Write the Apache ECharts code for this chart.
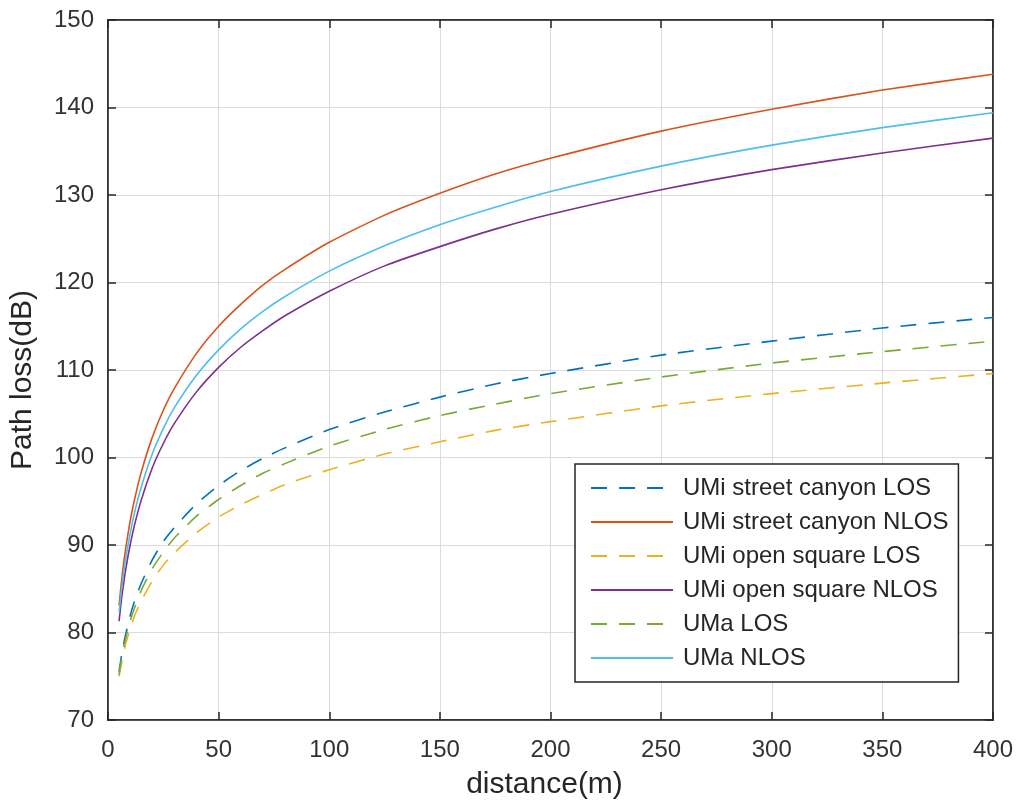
<!DOCTYPE html>
<html>
<head>
<meta charset="utf-8">
<script src="https://cdn.jsdelivr.net/npm/echarts@6/dist/echarts.min.js"></script>
<style>
  html, body { margin: 0; padding: 0; background: #ffffff; }
  #chart { width: 1023px; height: 811px; }
</style>
</head>
<body>
<div id="chart"></div>
<script>
// distance (m)
const distance = [5, 6, 7, 8, 10, 12, 15, 20, 25, 30, 40, 50, 60, 70, 80, 100, 125, 150, 175, 200, 250, 300, 350, 400];

// Path loss (dB)
const umiScLos  = [75.5, 77.2, 78.6, 79.8, 81.9, 83.6, 85.6, 88.3, 90.4, 92.0, 94.7, 96.8, 98.5, 99.9, 101.1, 103.2, 105.2, 106.9, 108.4, 109.6, 111.7, 113.3, 114.8, 116.0];
const umiScNlos = [83.1, 85.6, 87.8, 89.6, 92.7, 95.2, 98.3, 102.3, 105.4, 107.9, 111.9, 115.0, 117.5, 119.7, 121.5, 124.6, 127.7, 130.2, 132.4, 134.2, 137.3, 139.8, 142.0, 143.8];
const umiOsLos  = [75.0, 76.4, 77.6, 78.7, 80.4, 81.9, 83.6, 85.9, 87.7, 89.1, 91.4, 93.2, 94.6, 95.8, 96.9, 98.6, 100.4, 101.8, 103.1, 104.1, 105.9, 107.3, 108.5, 109.6];
const umiOsNlos = [81.3, 83.6, 85.5, 87.2, 90.0, 92.3, 95.1, 98.8, 101.6, 103.9, 107.5, 110.3, 112.6, 114.5, 116.2, 119.0, 121.9, 124.1, 126.1, 127.8, 130.6, 132.9, 134.8, 136.5];
const umaLos    = [75.2, 76.8, 78.2, 79.3, 81.3, 82.8, 84.8, 87.3, 89.2, 90.8, 93.3, 95.2, 96.8, 98.2, 99.3, 101.3, 103.2, 104.8, 106.1, 107.3, 109.2, 110.8, 112.1, 113.3];
const umaNlos   = [82.3, 84.7, 86.7, 88.4, 91.3, 93.7, 96.6, 100.4, 103.3, 105.7, 109.4, 112.3, 114.7, 116.7, 118.4, 121.3, 124.2, 126.6, 128.6, 130.4, 133.3, 135.7, 137.7, 139.4];

const seriesNames = ['UMi street canyon LOS', 'UMi street canyon NLOS', 'UMi open square LOS', 'UMi open square NLOS', 'UMa LOS', 'UMa NLOS'];
const xTicks = [0, 50, 100, 150, 200, 250, 300, 350, 400];
const yTicks = [70, 80, 90, 100, 110, 120, 130, 140, 150];

const seriesValues = [umiScLos, umiScNlos, umiOsLos, umiOsNlos, umaLos, umaNlos];
const seriesColors = ['#0072BD', '#D95319', '#EDB120', '#7E2F8E', '#77AC30', '#4DBEEE'];
const seriesDashed = [true, false, true, false, true, false];

const pairs = v => distance.map((d, i) => [d, v[i]]);

const chart = echarts.init(document.getElementById('chart'), null, { renderer: 'canvas' });

const axisColor = '#262626';
const fontFam = '"Liberation Sans", Arial, Helvetica, sans-serif';

const option = {
  backgroundColor: '#ffffff',
  animation: false,
  grid: {
    left: 108, right: 30, top: 20, bottom: 91,
    show: true, borderColor: axisColor, borderWidth: 1.5,
    outerBoundsMode: 'none'
  },
  legend: {
    orient: 'vertical',
    left: 575, top: 464,
    data: seriesNames,
    backgroundColor: '#ffffff',
    borderColor: axisColor,
    borderWidth: 1.5,
    padding: [11, 10, 11, 15],
    itemWidth: 82,
    itemHeight: 14,
    itemGap: 8,
    itemStyle: { opacity: 0 },
    textStyle: { fontFamily: fontFam, fontSize: 24, color: '#262626', lineHeight: 26, padding: [0, 0, 0, 5] }
  },
  xAxis: [{
    type: 'value', min: 0, max: 400, interval: 50,
    name: 'distance(m)', nameLocation: 'middle', nameGap: 50,
    nameTextStyle: { fontFamily: fontFam, fontSize: 30, color: '#262626', padding: [0, 12, 0, 0] },
    axisLine: { show: true, onZero: false, lineStyle: { color: axisColor, width: 1.5 } },
    axisTick: { show: true, inside: true, length: 8, lineStyle: { color: axisColor, width: 1.5 } },
    axisLabel: { fontFamily: fontFam, fontSize: 24, color: '#333333', margin: 18,
      formatter: v => xTicks.includes(v) ? String(v) : '' },
    splitLine: { show: true, lineStyle: { color: '#dcdcdc', width: 1 } }
  }, {
    type: 'value', min: 0, max: 400, interval: 50, position: 'top',
    axisLine: { show: true, onZero: false, lineStyle: { color: axisColor, width: 1.5 } },
    axisTick: { show: true, inside: true, length: 8, lineStyle: { color: axisColor, width: 1.5 } },
    axisLabel: { show: false }, splitLine: { show: false }
  }],
  yAxis: [{
    type: 'value', min: 70, max: 150, interval: 10,
    name: 'Path loss(dB)', nameLocation: 'middle', nameGap: 70, nameRotate: 90,
    nameTextStyle: { fontFamily: fontFam, fontSize: 30, color: '#262626', padding: [0, 20, 0, 0] },
    axisLine: { show: true, onZero: false, lineStyle: { color: axisColor, width: 1.5 } },
    axisTick: { show: true, inside: true, length: 8, lineStyle: { color: axisColor, width: 1.5 } },
    axisLabel: { fontFamily: fontFam, fontSize: 24, color: '#333333', margin: 14,
      formatter: v => yTicks.includes(v) ? String(v) : '' },
    splitLine: { show: true, lineStyle: { color: '#dcdcdc', width: 1 } }
  }, {
    type: 'value', min: 70, max: 150, interval: 10, position: 'right',
    axisLine: { show: true, onZero: false, lineStyle: { color: axisColor, width: 1.5 } },
    axisTick: { show: true, inside: true, length: 8, lineStyle: { color: axisColor, width: 1.5 } },
    axisLabel: { show: false }, splitLine: { show: false }
  }],
  series: seriesNames.map((name, k) => ({
    name: name,
    type: 'line',
    xAxisIndex: 0, yAxisIndex: 0,
    data: pairs(seriesValues[k]),
    symbol: 'none',
    smooth: 0.2,
    color: seriesColors[k],
    lineStyle: { color: seriesColors[k], width: 1.6, type: seriesDashed[k] ? [16, 12] : 'solid' }
  }))
};

chart.setOption(option);
</script>
</body>
</html>
